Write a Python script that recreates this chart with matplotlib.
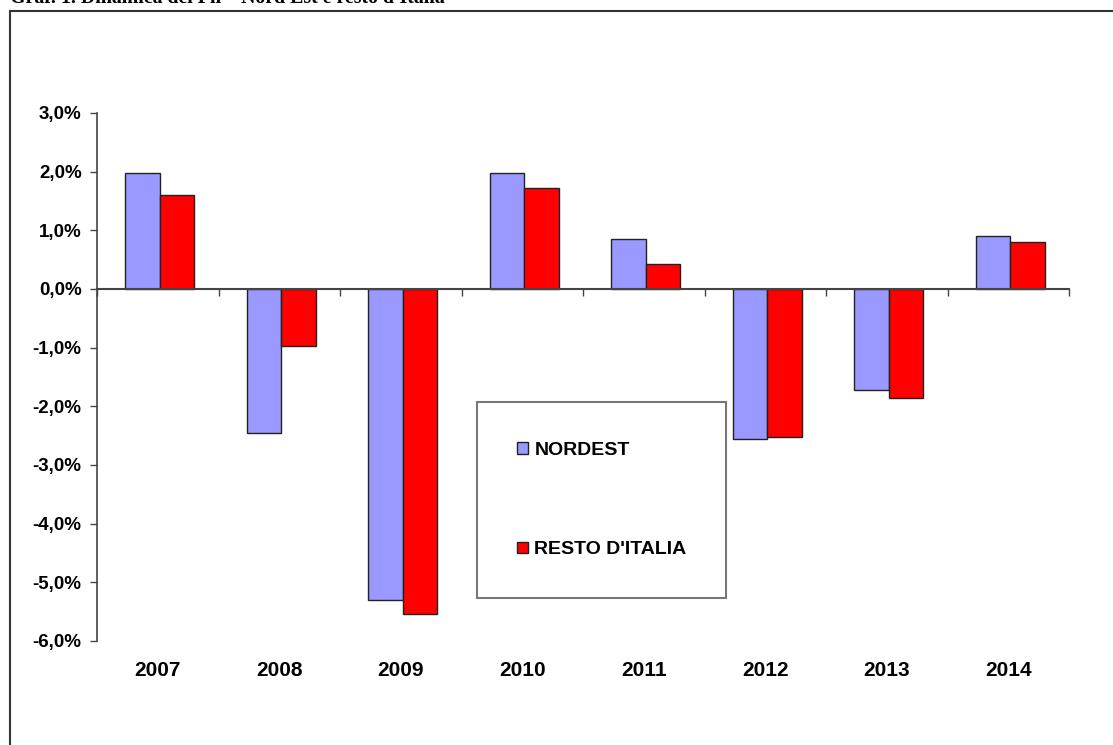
import matplotlib.pyplot as plt
import matplotlib.patches as mpatches
import numpy as np

# data (% change)
years = ['2007', '2008', '2009', '2010', '2011', '2012', '2013', '2014']
nordest = [1.97, -2.45, -5.30, 1.98, 0.85, -2.56, -1.72, 0.90]
resto = [1.61, -0.97, -5.54, 1.72, 0.43, -2.52, -1.86, 0.80]
y_ticks = [3, 2, 1, 0, -1, -2, -3, -4, -5, -6]

W, H = 1113, 745
fig = plt.figure(figsize=(W / 100, H / 100), dpi=100)
plt.rcParams['font.family'] = ['Liberation Sans', 'DejaVu Sans']

# title, cut off at the top of the page
fig.text(10 / W, 1 - 3 / H, "Graf. 1. Dinamica del Pil \u2013 Nord Est e resto d'Italia",
         family=['Liberation Serif', 'DejaVu Serif'], weight='bold', fontsize=14.3,
         va='baseline', ha='left')

# outer frame
frame = mpatches.Rectangle((9.5 / W, -0.1), 1.2, 1 - 11 / H + 0.1, transform=fig.transFigure,
                           fill=False, edgecolor='#333333', linewidth=1.5)
fig.patches.append(frame)

ax = fig.add_axes([97 / W, 1 - 641 / H, (1069 - 97) / W, (641 - 113) / H])

x = np.arange(len(years)) + 0.015
bw = 0.284
ax.bar(x - bw / 2, nordest, bw, color='#9999FF', edgecolor='#222222', linewidth=1, label='NORDEST')
ax.bar(x + bw / 2, resto, bw, color='#FF0000', edgecolor='#222222', linewidth=1, label="RESTO D'ITALIA")

ax.set_xlim(-0.5, len(years) - 0.5)
ax.set_ylim(-6, 3)

# y axis
ax.set_yticks(y_ticks)
ax.set_yticklabels([('%.1f%%' % v).replace('.', ',') for v in y_ticks])
ax.tick_params(axis='y', direction='out', length=5, width=1, color='#444444',
               labelsize=13.5, pad=6)
for t in ax.get_yticklabels():
    t.set_fontweight('bold')

# x axis on the zero line, ticks between categories
for s in ['top', 'right']:
    ax.spines[s].set_visible(False)
ax.spines['bottom'].set_position(('data', 0))
ax.spines['bottom'].set_color('#444444')
ax.spines['left'].set_color('#444444')
ax.spines['bottom'].set_linewidth(1.5)
ax.spines['left'].set_linewidth(1.2)
ax.set_xticks(np.arange(len(years) + 1) - 0.5)
ax.set_xticklabels([])
ax.tick_params(axis='x', direction='out', length=5, width=1, color='#444444')

# year labels below the plot
for i, yr in enumerate(years):
    ax.text(i, -0.055, yr, transform=ax.get_xaxis_transform(), ha='center', va='center',
            fontsize=15, fontweight='bold')

leg = ax.legend(loc='upper left', bbox_to_anchor=(477 / W, 1 - 402 / H),
                bbox_transform=fig.transFigure, borderaxespad=0, fancybox=False,
                prop={'weight': 'bold', 'size': 14}, borderpad=2.05, labelspacing=4.25,
                handlelength=0.55, handleheight=0.55, handletextpad=0.35)
leg.get_frame().set_edgecolor('#555555')
leg.get_frame().set_linewidth(1.5)

plt.savefig('out.png', dpi=100)
